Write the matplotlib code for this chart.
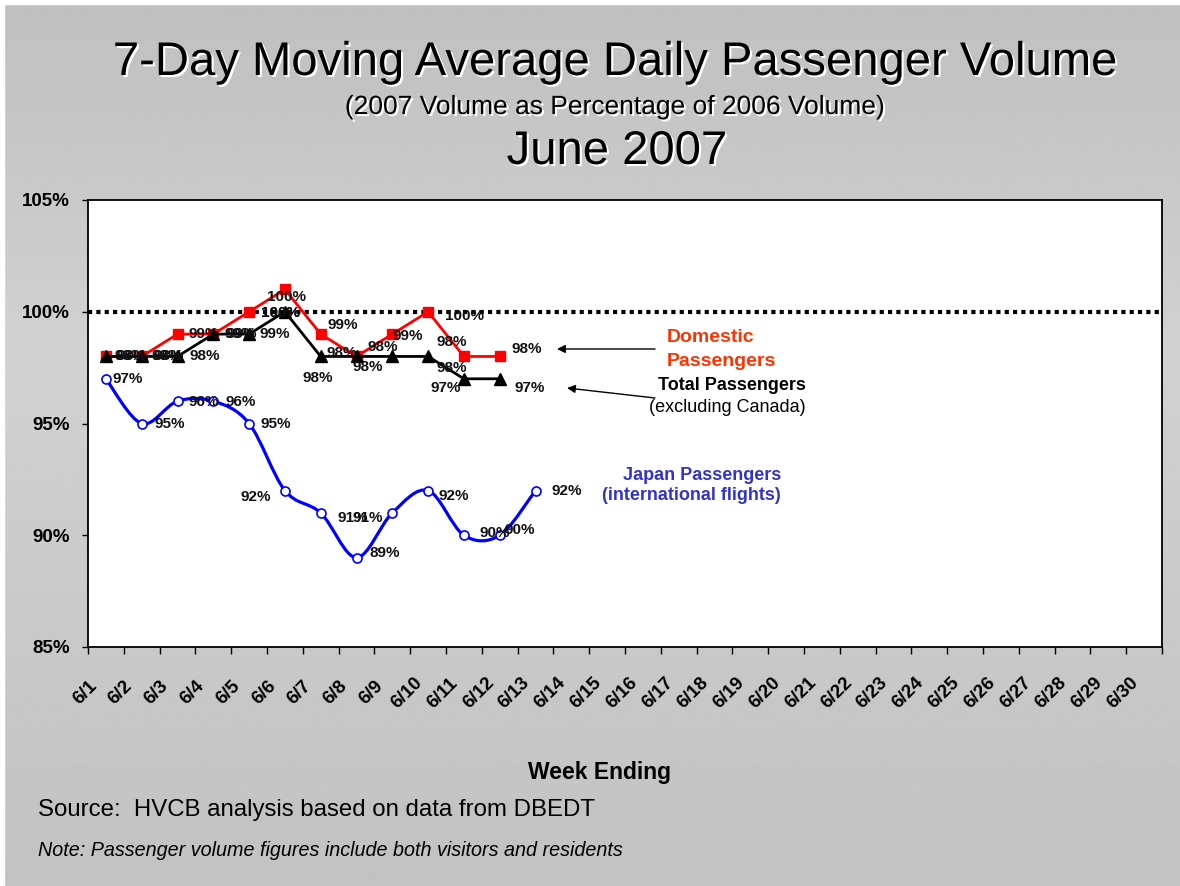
import numpy as np
import matplotlib
matplotlib.use("Agg")
import matplotlib.pyplot as plt
from matplotlib.path import Path
from matplotlib.patches import PathPatch, Rectangle
import matplotlib.patheffects as pe
from matplotlib.transforms import ScaledTranslation

plt.rcParams['font.family'] = ['Liberation Sans', 'DejaVu Sans']

# ---------------- data ----------------
categories = ['6/1', '6/2', '6/3', '6/4', '6/5', '6/6', '6/7', '6/8', '6/9', '6/10',
              '6/11', '6/12', '6/13', '6/14', '6/15', '6/16', '6/17', '6/18', '6/19', '6/20',
              '6/21', '6/22', '6/23', '6/24', '6/25', '6/26', '6/27', '6/28', '6/29', '6/30']
domestic = [98, 98, 99, 99, 100, 101, 99, 98, 99, 100, 98, 98]
domestic_labels = ['98%', '98%', '99%', '99%', '100%', '100%', '99%', '98%', '99%', '100%', '98%', '98%']
total = [98, 98, 98, 99, 99, 100, 98, 98, 98, 98, 97, 97]
total_labels = ['98%', '98%', '98%', '99%', '99%', '100%', '98%', '98%', '98%', '98%', '97%', '97%']
japan = [97, 95, 96, 96, 95, 92, 91, 89, 91, 92, 90, 90, 92]
japan_labels = ['97%', '95%', '96%', '96%', '95%', '92%', '91%', '89%', '91%', '92%', '90%', '90%', '92%']
ytick_values = [85, 90, 95, 100, 105]
ytick_labels = ['85%', '90%', '95%', '100%', '105%']
reference_level = 100

# label offsets in pixels (dx right, dy down)
dom_off = [(24, 0), (25, 0), (26, 0), (26, 0), (31, 1), (2, 8), (22, -9), (26, -9),
           (15, 2), (36, 4), (-12, -14), (27, -7)]
tot_off = [(26, 0), (27, 0), (27, 0), (28, 0), (26, 0), (-4, 1), (-3, 22), (-15, -3),
           (-25, 11), (24, 12), (-18, 9), (30, 9)]
jap_off = [(22, 0), (28, 0), (26, 1), (27, 1), (27, 0), (-29, 6), (32, 5), (28, -5),
           (-25, 5), (26, 5), (31, -2), (20, -5), (31, 0)]

W, H = 1180, 886
fig = plt.figure(figsize=(W / 100, H / 100), dpi=100)
fig.patch.set_facecolor('#C4C4C4')

# background gradient
bg = fig.add_axes([0, 0, 1, 1], zorder=-10)
yy = np.linspace(0, 1, 400)
peak = 350 / H
vals = np.where(yy < peak, 0.75 + 0.07 * yy / peak, 0.82 - 0.06 * (yy - peak) / (1 - peak))
bg.imshow(np.repeat(vals[:, None], 2, axis=1), cmap='gray', vmin=0, vmax=1,
          aspect='auto', extent=[0, 1, 0, 1], origin='upper', interpolation='bilinear')
bg.add_patch(Rectangle((0, 1 - 4 / H), 1, 4 / H, color='white'))
bg.add_patch(Rectangle((0, 0), 4 / W, 1, color='white'))
bg.set_xlim(0, 1); bg.set_ylim(0, 1)
bg.axis('off')

# plot axes
L, R, T, B = 88, 1162, 200, 647
ax = fig.add_axes([L / W, 1 - B / H, (R - L) / W, (B - T) / H])
ax.set_facecolor('white')
ax.set_xlim(-0.5, len(categories) - 0.5)
ax.set_ylim(85, 105)
for s in ax.spines.values():
    s.set_color('black'); s.set_linewidth(1.3)

ax.set_yticks(ytick_values)
ax.set_yticklabels(ytick_labels, fontsize=13.5, fontweight='bold')
ax.tick_params(axis='y', direction='out', length=4.3, width=1, pad=8.5)

xs = np.arange(len(categories))
ax.set_xticks(np.arange(len(categories) + 1) - 0.5)
ax.set_xticklabels([])
ax.set_xticks(xs, minor=True)
ax.set_xticklabels(categories, minor=True, fontsize=13.5, fontweight='bold',
                   rotation=45, ha='center', va='center', rotation_mode='anchor')
ax.tick_params(axis='x', which='major', direction='out', length=5, width=1)
ax.tick_params(axis='x', which='minor', length=0, pad=0)
for lab in ax.get_xticklabels(minor=True):
    lab.set_transform(lab.get_transform() + ScaledTranslation(-0.21, -0.46, fig.dpi_scale_trans))

# reference dotted line
ax.axhline(reference_level, color='black', lw=3, linestyle=(0, (1, 1)), dash_capstyle='butt', zorder=2)

# Japan smoothed line (Excel-like Bezier smoothing)
jx = np.arange(len(japan), dtype=float)
jy = np.array(japan, dtype=float)
pts = np.column_stack([jx, jy])
verts = [pts[0]]
codes = [Path.MOVETO]
n = len(pts)
for i in range(n - 1):
    p0 = pts[i - 1] if i > 0 else pts[i]
    p1 = pts[i]
    p2 = pts[i + 1]
    p3 = pts[i + 2] if i + 2 < n else pts[i + 1]
    c1 = p1 + (p2 - p0) / 6
    c2 = p2 - (p3 - p1) / 6
    verts += [c1, c2, p2]
    codes += [Path.CURVE4] * 3
ax.add_patch(PathPatch(Path(verts, codes), facecolor='none', edgecolor='#0000FF', lw=2.3, zorder=3))
ax.plot(jx, jy, linestyle='none', marker='o', markersize=6.5, markerfacecolor='white',
        markeredgecolor='#0000FF', markeredgewidth=1.2, zorder=4)

# Domestic and Total
dx_ = np.arange(len(domestic))
ax.plot(dx_, domestic, color='#FF0000', lw=2, marker='s', markersize=7, zorder=5)
tx_ = np.arange(len(total))
ax.plot(tx_, total, color='black', lw=2, marker='^', markersize=8, zorder=6)

def put_labels(xv, yv, labels, offs):
    for x, y, t, (ddx, ddy) in zip(xv, yv, labels, offs):
        ax.annotate(t, (x, y), xytext=(ddx, -ddy), textcoords='offset pixels',
                    ha='center', va='center', fontsize=11, fontweight='bold',
                    color='#111111', zorder=10)

put_labels(jx, japan, japan_labels, jap_off)
put_labels(dx_, domestic, domestic_labels, dom_off)
put_labels(tx_, total, total_labels, tot_off)

# helpers for pixel -> data
def px2x(px):
    return (px - L) / ((R - L) / len(categories)) - 0.5

def py2y(py):
    return 105 - (py - T) / ((B - T) / 20)

# series captions
ax.text(px2x(667), py2y(338), 'Domestic', color='#FF3300', fontsize=14, fontweight='bold',
        ha='left', va='center')
ax.text(px2x(667), py2y(361), 'Passengers', color='#FF3300', fontsize=14, fontweight='bold',
        ha='left', va='center')
ax.text(px2x(806), py2y(386), 'Total Passengers', color='black', fontsize=13, fontweight='bold',
        ha='right', va='center')
ax.text(px2x(806), py2y(408), '(excluding Canada)', color='black', fontsize=13,
        ha='right', va='center')
ax.text(px2x(781), py2y(475), 'Japan Passengers', color='#3333CC', fontsize=13, fontweight='bold',
        ha='right', va='center')
ax.text(px2x(781), py2y(495), '(international flights)', color='#3333CC', fontsize=13, fontweight='bold',
        ha='right', va='center')

arrow_kw = dict(arrowstyle='-|>', color='black', lw=1, mutation_scale=12, shrinkA=0, shrinkB=0)
ax.annotate('', xy=(px2x(557), py2y(349)), xytext=(px2x(655), py2y(349)), arrowprops=arrow_kw)
ax.annotate('', xy=(px2x(567), py2y(388)), xytext=(px2x(655), py2y(398)), arrowprops=arrow_kw)

# titles
shadow = [pe.SimplePatchShadow(offset=(1.5, -1.5), shadow_rgbFace='white', alpha=1.0), pe.Normal()]
fig.text(615 / W, 1 - 63 / H, '7-Day Moving Average Daily Passenger Volume', fontsize=34,
         ha='center', va='center', path_effects=shadow)
fig.text(615 / W, 1 - 107 / H, '(2007 Volume as Percentage of 2006 Volume)', fontsize=19,
         ha='center', va='center', path_effects=shadow)
fig.text(617 / W, 1 - 152 / H, 'June 2007', fontsize=34,
         ha='center', va='center', path_effects=shadow)

fig.text(600 / W, 1 - 773 / H, 'Week Ending', fontsize=16.5, fontweight='bold',
         ha='center', va='center')
fig.text(38 / W, 1 - 810 / H, 'Source:  HVCB analysis based on data from DBEDT', fontsize=17.3,
         ha='left', va='center')
fig.text(38 / W, 1 - 851 / H, 'Note: Passenger volume figures include both visitors and residents',
         fontsize=14.2, style='italic', ha='left', va='center')

fig.savefig('out.png', dpi=100)
